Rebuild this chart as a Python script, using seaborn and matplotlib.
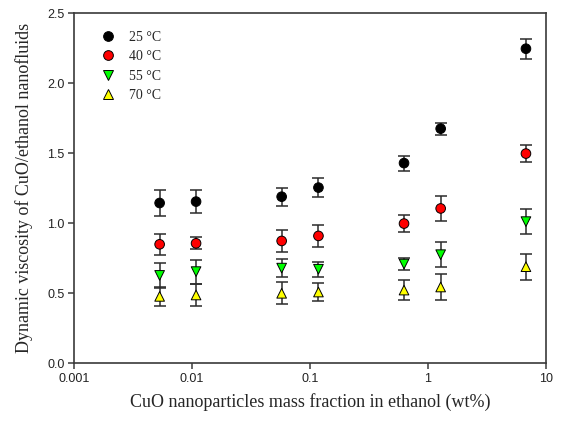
import numpy as np
import pandas as pd
import matplotlib
matplotlib.use("Agg")
import matplotlib.pyplot as plt
import seaborn as sns
from matplotlib.ticker import FixedLocator, FixedFormatter, NullLocator

# Mass fraction of CuO in ethanol (wt%)
mass_fraction = [0.0053, 0.0108, 0.0575, 0.118, 0.628, 1.285, 6.8]

# Dynamic viscosity (mPa.s) and its uncertainty at each temperature
visc_25 = [1.145, 1.155, 1.19, 1.255, 1.43, 1.676, 2.247]
err_25 = [0.09, 0.08, 0.065, 0.066, 0.054, 0.042, 0.07]
visc_40 = [0.85, 0.857, 0.874, 0.91, 0.998, 1.106, 1.498]
err_40 = [0.077, 0.043, 0.08, 0.078, 0.062, 0.09, 0.063]
visc_55 = [0.628, 0.655, 0.68, 0.672, 0.709, 0.776, 1.012]
err_55 = [0.09, 0.085, 0.062, 0.053, 0.046, 0.088, 0.09]
visc_70 = [0.478, 0.488, 0.5, 0.509, 0.523, 0.545, 0.69]
err_70 = [0.07, 0.08, 0.078, 0.062, 0.069, 0.095, 0.093]

temps = ["25 °C", "40 °C", "55 °C", "70 °C"]
colors = ["#000000", "#ff0000", "#00ff00", "#ffff00"]
markers = ["o", "o", "v", "^"]

series_vals = [visc_25, visc_40, visc_55, visc_70]
series_errs = [err_25, err_40, err_55, err_70]

df = pd.concat(
    [pd.DataFrame({"x": mass_fraction, "y": v, "err": e, "T": t})
     for v, e, t in zip(series_vals, series_errs, temps)],
    ignore_index=True,
)

sns.set_theme(style="white")
plt.rcParams["font.family"] = ["Liberation Sans", "DejaVu Sans"]

fig = plt.figure(figsize=(5.83, 4.23), dpi=100)
ax = fig.add_axes([0.1274, 0.1411, 0.8086, 0.8275])

# error bars under the markers
for t in temps:
    sub = df[df["T"] == t]
    ax.errorbar(sub["x"], sub["y"], yerr=sub["err"], fmt="none",
                ecolor="#2b2b2b", elinewidth=1.1, capsize=4.2,
                capthick=1.1, zorder=2)

sns.scatterplot(data=df, x="x", y="y", hue="T", style="T",
                palette=dict(zip(temps, colors)),
                markers=dict(zip(temps, markers)),
                s=48, edgecolor="black", linewidth=0.7,
                legend=False, ax=ax, zorder=3)

ax.set_xscale("log")
ax.set_xlim(0.001, 10)
ax.set_ylim(0, 2.5)
ax.xaxis.set_major_locator(FixedLocator([0.001, 0.01, 0.1, 1, 10]))
ax.xaxis.set_major_formatter(FixedFormatter(["0.001", "0.01", "0.1", "1", "10"]))
ax.xaxis.set_minor_locator(NullLocator())
ax.set_yticks([0.0, 0.5, 1.0, 1.5, 2.0, 2.5])
ax.set_yticklabels(["0.0", "0.5", "1.0", "1.5", "2.0", "2.5"])

for sp in ax.spines.values():
    sp.set_visible(True)
    sp.set_color("#3a3a3a")
    sp.set_linewidth(1.2)

ax.tick_params(axis="both", which="major", direction="out", length=4,
               width=1.1, color="#3a3a3a", labelsize=9, labelcolor="#222222",
               bottom=True, left=True, top=False, right=False, pad=3)

serif = ["Liberation Serif", "DejaVu Serif"]
ax.set_xlabel("CuO nanoparticles mass fraction in ethanol (wt%)",
              fontsize=13, family=serif, labelpad=6)
ax.set_ylabel("Dynamic viscosity of CuO/ethanol nanofluids",
              fontsize=13, family=serif, labelpad=10)

# legend with marker-only entries
handles = [plt.Line2D([], [], linestyle="none", marker=m, markersize=7,
                      markerfacecolor=c, markeredgecolor="black",
                      markeredgewidth=0.7)
           for m, c in zip(markers, colors)]
ax.legend(handles, temps, loc="upper left", bbox_to_anchor=(0.03, 0.985),
          frameon=False, handlelength=1.0, handletextpad=1.0,
          labelspacing=0.45, prop={"family": serif, "size": 10})

fig.savefig("out.png", dpi=100)
